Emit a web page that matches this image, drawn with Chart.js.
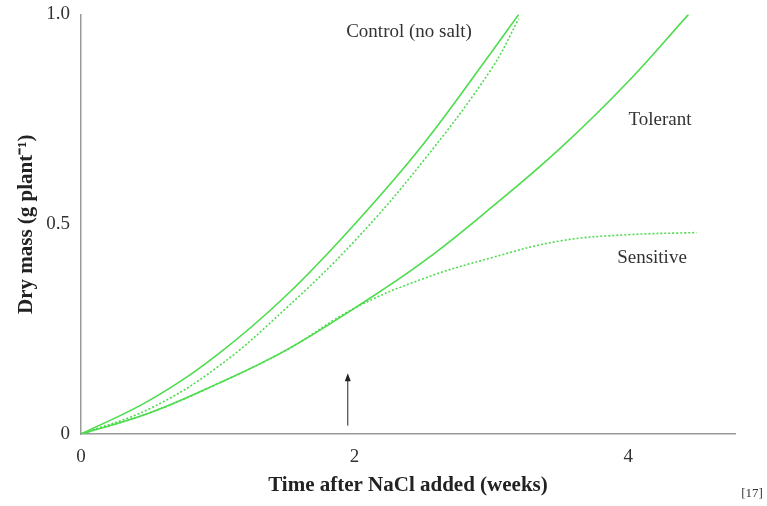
<!DOCTYPE html>
<html><head><meta charset="utf-8">
<script src="https://cdn.jsdelivr.net/npm/chart.js@4"></script>
<style>body{margin:0;background:#fff}</style>
</head><body><canvas id="c" width="767" height="506"></canvas>
<script>
const weeks = [0, 0.5, 1, 1.5, 2, 2.5, 3, 3.2];
const controlSolid = [0, 0.08, 0.19, 0.33, 0.5, 0.69, 0.91, 1.0];
const controlDotted = [0, 0.06, 0.16, 0.30, 0.46, 0.65, 0.87, 0.99];
const tolWeeks = [0, 0.5, 1, 1.5, 2, 2.5, 3, 3.5, 4, 4.44];
const tolerant = [0, 0.05, 0.12, 0.2, 0.3, 0.41, 0.54, 0.68, 0.84, 1.0];
const sensWeeks = [0, 0.5, 1, 1.5, 2, 2.5, 3, 3.5, 4, 4.5];
const sensitive = [0, 0.05, 0.12, 0.2, 0.3, 0.37, 0.42, 0.46, 0.475, 0.48];
const yTicks = [0, 0.5, 1.0];
const xTicks = [0, 2, 4];
const arrowAt = {x: 1.95, from: 0.02, to: 0.14};
const labels = [
  {text: 'Control (no salt)', x: 409, y: 32},
  {text: 'Tolerant', x: 660, y: 120},
  {text: 'Sensitive', x: 652, y: 258}
];

const pts = (xs, ys) => xs.map((x, i) => ({x: x, y: ys[i]}));
const green = '#4ddc4d';
const ds = (d, dash) => ({data: d, borderColor: green, borderWidth: 1.6, borderDash: dash,
  pointRadius: 0, tension: 0.4, fill: false});

const extras = {
  id: 'extras',
  afterDraw(chart) {
    const ctx = chart.ctx, xs = chart.scales.x, ys = chart.scales.y;
    const ax = xs.getPixelForValue(arrowAt.x);
    const y1 = ys.getPixelForValue(arrowAt.from), y2 = ys.getPixelForValue(arrowAt.to);
    ctx.save();
    ctx.strokeStyle = '#222'; ctx.fillStyle = '#222'; ctx.lineWidth = 1;
    ctx.beginPath(); ctx.moveTo(ax, y1); ctx.lineTo(ax, y2 + 4); ctx.stroke();
    ctx.beginPath(); ctx.moveTo(ax, y2 - 2); ctx.lineTo(ax - 3, y2 + 6); ctx.lineTo(ax + 3, y2 + 6); ctx.fill();
    ctx.font = '19px "Liberation Serif"'; ctx.fillStyle = '#333'; ctx.textAlign = 'center';
    ctx.textBaseline = 'middle';
    labels.forEach(l => ctx.fillText(l.text, l.x, l.y));
    ctx.font = '13px "Liberation Serif"';
    ctx.fillText('[17]', 752, 494);
    ctx.restore();
  }
};

new Chart(document.getElementById('c'), {
  type: 'line',
  data: {datasets: [
    ds(pts(weeks, controlSolid), []),
    ds(pts(weeks, controlDotted), [2, 2]),
    ds(pts(tolWeeks, tolerant), []),
    ds(pts(sensWeeks, sensitive), [2, 2])
  ]},
  options: {
    responsive: false, animation: false, devicePixelRatio: 1,
    layout: {padding: {left: 10, right: 32, top: 10, bottom: 2}},
    plugins: {legend: {display: false}, tooltip: {enabled: false}},
    scales: {
      x: {type: 'linear', min: 0, max: 4.78,
        afterBuildTicks: s => { s.ticks = xTicks.map(v => ({value: v})); },
        grid: {display: false},
        border: {color: '#999', width: 1.5},
        ticks: {color: '#333', font: {family: 'Liberation Serif', size: 19}, padding: 4},
        title: {display: true, text: 'Time after NaCl added (weeks)', color: '#222',
          font: {family: 'Liberation Serif', size: 21, weight: 'bold'}, padding: {top: 0, bottom: 6}}},
      y: {min: 0, max: 1.0,
        afterBuildTicks: s => { s.ticks = yTicks.map(v => ({value: v})); },
        grid: {display: false},
        border: {color: '#999', width: 1.5},
        ticks: {color: '#333', font: {family: 'Liberation Serif', size: 19},
          callback: v => v === 0 ? '0' : v.toFixed(1)},
        title: {display: true, text: 'Dry mass (g plant\u207B\u00B9)', color: '#222',
          font: {family: 'Liberation Serif', size: 21, weight: 'bold'}}}
    }
  },
  plugins: [extras]
});
</script>
</body></html>
